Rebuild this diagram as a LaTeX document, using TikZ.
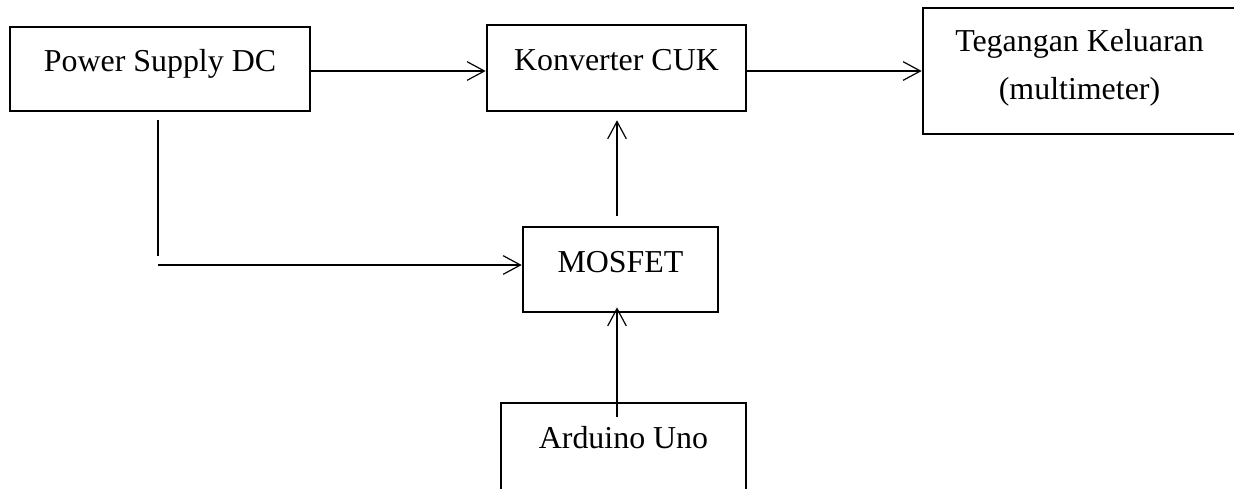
\documentclass[tikz,border=0pt]{standalone}
\usepackage{fontspec}
\setmainfont{Liberation Serif}
\usepackage{tikz}
\usetikzlibrary{arrows.meta}
\usetikzlibrary{calc}
\tikzset{block/.style={draw, line width=1pt, inner sep=0, text height=10pt, text depth=8pt, font=\fontsize{12}{14.5}\selectfont}}
\tikzset{link/.style={draw, line width=0.45pt}}
\tikzset{every edge/.style={draw, line width=0.45pt, -{Straight Barb[length=6.5pt, width=7pt]}}}

\begin{document}
\begin{tikzpicture}[x=0.376pt, y=-0.376pt]
  \clip (0, 0) rectangle (1234, 488);

  \node[block, minimum width=112.8pt, minimum height=31.6pt] at (160, 69) (ps) {Power Supply DC};
  \node[block, minimum width=97.4pt, minimum height=32.3pt] at (616.5, 68) (cuk) {Konverter CUK};
  \node[block, minimum width=117.7pt, minimum height=47.4pt, text depth=25pt] at (1079.5, 71) (teg)
    {\begin{tabular}[t]{@{}c@{}}Tegangan Keluaran\\[3.9pt](multimeter)\end{tabular}};
  \node[block, minimum width=73.3pt, minimum height=32pt] at (620.5, 269.5) (mos) {MOSFET};
  \node[block, minimum width=92.1pt, minimum height=33.1pt, text depth=9.25pt] at (623.5, 447) (ard) {Arduino Uno};

  % rows and columns of the connectors
  \coordinate (row) at (0, 71);
  \coordinate (col) at (617, 0);
  \coordinate (tap) at (158, 256);
  \coordinate (turn) at (158, 265);

  \draw (ps.east |- row) edge (cuk.west |- row);
  \draw (cuk.east |- row) edge (teg.west |- row);

  \draw[link] ($(ps.south -| tap)+(0, 8)$) -- (tap);
  \draw (turn) edge (turn -| mos.west);

  \draw ($(mos.north -| col)+(0, -10)$) edge ($(cuk.south -| col)+(0, 8)$);
  \draw ($(ard.north -| col)+(0, 15)$) edge ($(mos.south -| col)+(0, -6)$);
\end{tikzpicture}
\end{document}
